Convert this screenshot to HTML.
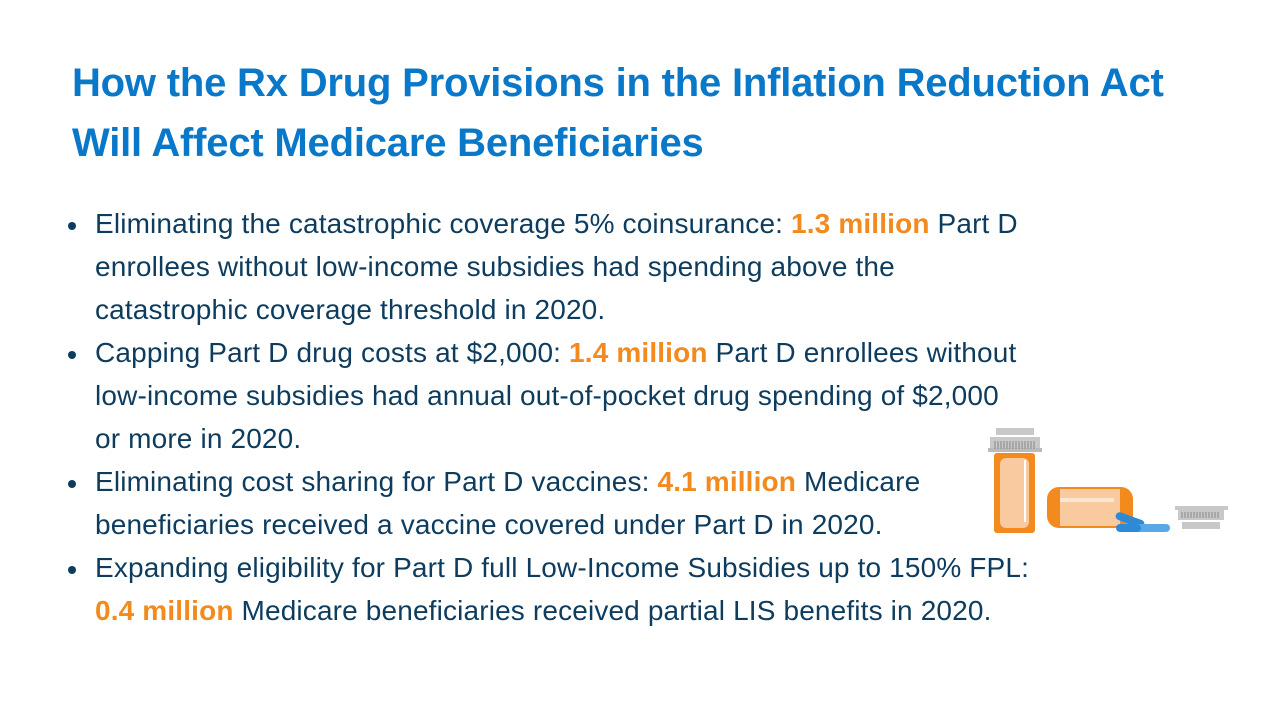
<!DOCTYPE html><html><head><style>
body{margin:0;width:1280px;height:720px;background:#fff;overflow:hidden;font-family:"Liberation Sans",sans-serif;position:relative}
.t{position:absolute;left:72px;color:#0a78c8;font-weight:bold;font-size:40px;white-space:nowrap;letter-spacing:-0.2px}
.l{position:absolute;left:95px;color:#0d3c5e;font-size:28px;white-space:nowrap;letter-spacing:0.15px}
.o{color:#f28a1e;font-weight:bold}
.b{position:absolute;left:68px;width:8px;height:8px;border-radius:50%;background:#0d3c5e}
</style></head><body>
<div class="t" style="top:61px">How the Rx Drug Provisions in the Inflation Reduction Act</div>
<div class="t" style="top:121px">Will Affect Medicare Beneficiaries</div>
<div class="b" style="top:222px"></div>
<div class="l" style="top:208px">Eliminating the catastrophic coverage 5% coinsurance: <span class="o">1.3 million</span> Part D</div>
<div class="l" style="top:251px">enrollees without low-income subsidies had spending above the</div>
<div class="l" style="top:294px">catastrophic coverage threshold in 2020.</div>
<div class="b" style="top:351px"></div>
<div class="l" style="top:337px">Capping Part D drug costs at $2,000: <span class="o">1.4 million</span> Part D enrollees without</div>
<div class="l" style="top:380px">low-income subsidies had annual out-of-pocket drug spending of $2,000</div>
<div class="l" style="top:423px">or more in 2020.</div>
<div class="b" style="top:480px"></div>
<div class="l" style="top:466px">Eliminating cost sharing for Part D vaccines: <span class="o">4.1 million</span> Medicare</div>
<div class="l" style="top:509px">beneficiaries received a vaccine covered under Part D in 2020.</div>
<div class="b" style="top:566px"></div>
<div class="l" style="top:552px">Expanding eligibility for Part D full Low-Income Subsidies up to 150% FPL:</div>
<div class="l" style="top:595px"><span class="o">0.4 million</span> Medicare beneficiaries received partial LIS benefits in 2020.</div>
<svg style="position:absolute;left:980px;top:420px" width="260" height="120">
<rect x="16" y="8" width="38" height="7" fill="#c8c8c8"/>
<rect x="10" y="17" width="50" height="15" fill="#c8c8c8"/>
<rect x="8" y="28" width="54" height="4" fill="#bbb"/>
<g stroke="#888" stroke-width="1"><path d="M15 21v8M18 21v8M21 21v8M24 21v8M27 21v8M30 21v8M33 21v8M36 21v8M39 21v8M42 21v8M45 21v8M48 21v8M51 21v8M54 21v8"/></g>
<rect x="14" y="33" width="41" height="80" rx="3" fill="#f28a1e"/>
<rect x="20" y="38" width="29" height="70" rx="6" fill="#f9c9a0"/>
<rect x="44" y="40" width="2" height="62" fill="#fff"/>
<rect x="67" y="67" width="86" height="41" rx="12" fill="#f28a1e"/>
<rect x="80" y="69" width="60" height="37" fill="#f9c9a0"/>
<rect x="80" y="78" width="54" height="4" fill="#fde5d0"/>
<g fill="#2f8ad6"><rect x="135" y="96" width="30" height="8" rx="4" transform="rotate(20 150 100)"/><rect x="148" y="104" width="42" height="8" rx="4" fill="#5aa8e6"/><rect x="136" y="104" width="25" height="8" rx="4"/></g>
<rect x="195" y="86" width="53" height="4" fill="#c8c8c8"/>
<rect x="198" y="90" width="46" height="10" fill="#c8c8c8"/>
<g stroke="#888"><path d="M202 92v6M205 92v6M208 92v6M211 92v6M214 92v6M217 92v6M220 92v6M223 92v6M226 92v6M229 92v6M232 92v6M235 92v6M238 92v6"/></g>
<rect x="202" y="102" width="38" height="7" fill="#c8c8c8"/>
</svg>
</body></html>
